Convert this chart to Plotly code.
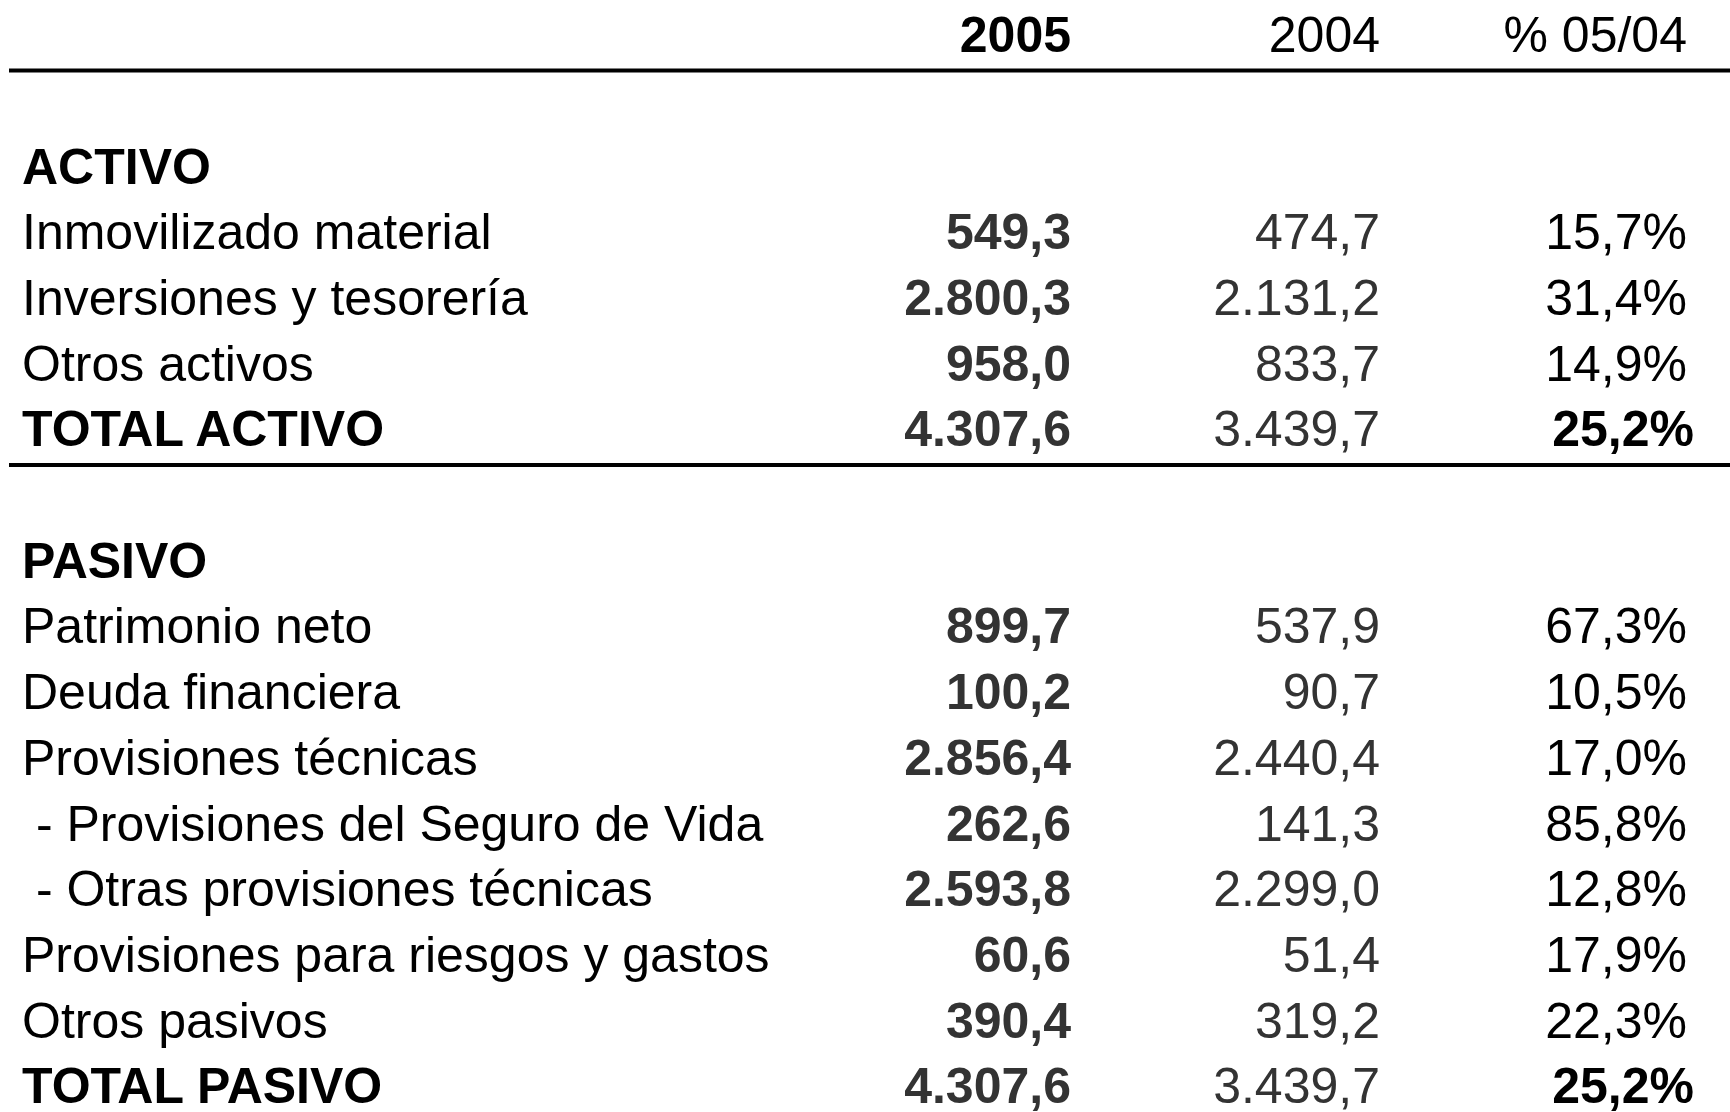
import plotly.graph_objects as go

# --- datos ---
header = ["2005", "2004", "% 05/04"]
labels = ["ACTIVO", "Inmovilizado material", "Inversiones y tesorería", "Otros activos", "TOTAL ACTIVO",
          "",
          "PASIVO", "Patrimonio neto", "Deuda financiera", "Provisiones técnicas",
          " - Provisiones del Seguro de Vida", " - Otras provisiones técnicas",
          "Provisiones para riesgos y gastos", "Otros pasivos", "TOTAL PASIVO"]
v2005 = ["", "549,3", "2.800,3", "958,0", "4.307,6",
         "",
         "", "899,7", "100,2", "2.856,4", "262,6", "2.593,8", "60,6", "390,4", "4.307,6"]
v2004 = ["", "474,7", "2.131,2", "833,7", "3.439,7",
         "",
         "", "537,9", "90,7", "2.440,4", "141,3", "2.299,0", "51,4", "319,2", "3.439,7"]
var = ["", "15,7%", "31,4%", "14,9%", "25,2%",
       "",
       "", "67,3%", "10,5%", "17,0%", "85,8%", "12,8%", "17,9%", "22,3%", "25,2%"]
bold_rows = {"ACTIVO", "TOTAL ACTIVO", "PASIVO", "TOTAL PASIVO"}

FONT = "Liberation Sans, Arial, sans-serif"
SIZE = 50
rows = list(range(len(labels)))

# eje x en píxeles de página; el margen del body se quita abajo
W, H = 1730, 1112
Y0, STEP = 171, 65.7   # centro de la fila 0 y paso entre filas (px)

fig = go.Figure()

def text_trace(x, y, txt, pos, color, weight):
    fig.add_trace(go.Scatter(
        x=x, y=y, mode="text", text=txt, textposition=pos, cliponaxis=False,
        textfont=dict(family=FONT, size=SIZE, color=color, weight=weight),
        hoverinfo="skip"))

# etiquetas
text_trace([22] * len(rows), rows, labels, "middle right", "#000",
           [700 if l in bold_rows else 400 for l in labels])
# columna 2005
text_trace([1071] * len(rows), rows, v2005, "middle left", "#333", 700)
# columna 2004
text_trace([1380] * len(rows), rows, v2004, "middle left", "#333", 400)
# columna variación
is_total = [l.startswith("TOTAL") for l in labels]
text_trace([1694 if t else 1687 for t in is_total], rows, var, "middle left", "#000",
           [700 if t else 400 for t in is_total])
# cabecera
text_trace([1071, 1380, 1687], [-2] * 3, header, "middle left", "#000", [700, 400, 400])

# líneas
for ypx in (70.5, 465):
    yl = (ypx - Y0) / STEP
    fig.add_shape(type="line", xref="x", yref="y", x0=9, x1=W, y0=yl, y1=yl,
                  line=dict(color="#000", width=4))

fig.update_xaxes(visible=False, range=[0, W], fixedrange=True)
fig.update_yaxes(visible=False, range=[(H - Y0) / STEP, -Y0 / STEP], fixedrange=True)
fig.update_layout(width=W, height=H, margin=dict(l=0, r=0, t=0, b=0),
                  plot_bgcolor="white", paper_bgcolor="white", showlegend=False)

fig.write_html("out.html", config={"displayModeBar": False},
               post_script="document.body.style.margin='0';")
